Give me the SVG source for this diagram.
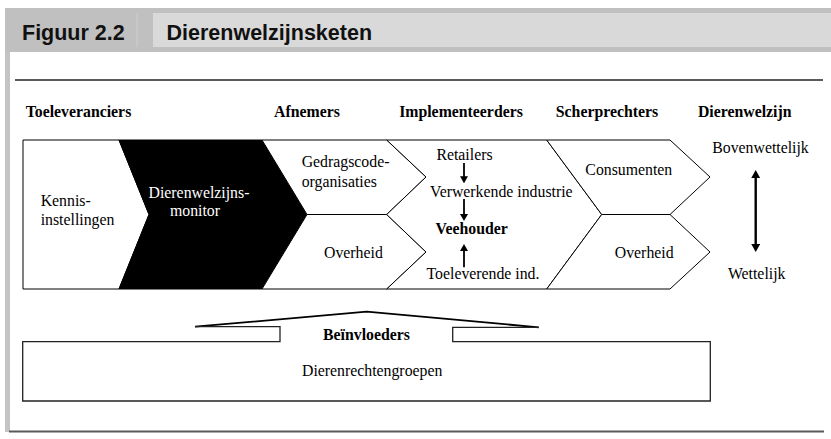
<svg xmlns="http://www.w3.org/2000/svg" width="831" height="439" viewBox="0 0 831 439">
<style>
.t{font-family:"Liberation Serif","Times New Roman",serif;font-size:15.8px;fill:#000}
.b{font-weight:bold}
.h{font-family:"Liberation Sans",Arial,sans-serif;font-weight:bold;font-size:21.5px;fill:#111}
.ch{fill:#fff;stroke:#000;stroke-width:1}
.blk{fill:#000;stroke:#000;stroke-width:1}
.ar{stroke:#000;fill:none}
.box{fill:none;stroke:#222;stroke-width:1.3}
.rule{stroke:#5a5a5a;stroke-width:2}
</style>
<defs>
<marker id="ah" viewBox="0 0 10 10" refX="1" refY="5" markerUnits="userSpaceOnUse" markerWidth="7" markerHeight="8" preserveAspectRatio="none" orient="auto-start-reverse">
<path d="M0,0 L10,5 L0,10 z" fill="#000"/>
</marker>
<marker id="ah2" viewBox="0 0 10 10" refX="1" refY="5" markerUnits="userSpaceOnUse" markerWidth="8" markerHeight="9" preserveAspectRatio="none" orient="auto-start-reverse">
<path d="M0,0 L10,5 L0,10 z" fill="#000"/>
</marker>
</defs>
<rect width="831" height="439" fill="#fff"/>
<g id="header">
<rect x="5" y="8" width="826" height="44" fill="#c0c0c0"/>
<rect x="5" y="52" width="5" height="380" fill="#c4c4c4"/>
<line x1="137" y1="13" x2="137" y2="47" stroke="#cfcfcf" stroke-width="1"/>
<rect x="153" y="13" width="678" height="34" fill="#d9d9d9"/>
<text class="h" x="22" y="39.5">Figuur 2.2</text>
<text class="h" x="166.5" y="39.5">Dierenwelzijnsketen</text>
<line class="rule" x1="15" y1="80" x2="823" y2="80"/>
<line class="rule" x1="9" y1="431.5" x2="824" y2="431.5"/>
</g>
<g id="column-headers" class="t b">
<text x="78.5" y="116.5" text-anchor="middle">Toeleveranciers</text>
<text x="307" y="116.5" text-anchor="middle">Afnemers</text>
<text x="461" y="116.5" text-anchor="middle">Implementeerders</text>
<text x="607" y="116.5" text-anchor="middle">Scherprechters</text>
<text x="744.7" y="116.5" text-anchor="middle">Dierenwelzijn</text>
</g>
<g id="kennisinstellingen">
<polygon class="ch" points="23,140 119,140 149,214.5 119,289 23,289"/>
<text class="t" x="40.7" y="206">Kennis-</text>
<text class="t" x="40.7" y="225">instellingen</text>
</g>
<g id="monitor">
<polygon class="blk" points="119,140 262,140 307,214.5 262,289 119,289 149,214.5"/>
<text class="t" x="199" y="198" text-anchor="middle" style="fill:#fff">Dierenwelzijns-</text>
<text class="t" x="195" y="216" text-anchor="middle" style="fill:#fff">monitor</text>
</g>
<g id="gedragscode">
<polygon class="ch" points="262,140 386.7,140 426,177 386.7,214.5 307,214.5"/>
<text class="t" x="301.7" y="167.3">Gedragscode-</text>
<text class="t" x="301.7" y="186.5">organisaties</text>
</g>
<g id="overheid-afnemers">
<polygon class="ch" points="307,214.5 386.7,214.5 426,252 386.7,289 262,289"/>
<text class="t" x="324" y="258.3">Overheid</text>
</g>
<g id="implementeerders">
<polygon class="ch" points="386.7,140 546.7,140 601.7,214.5 546.7,289 386.7,289 426,252 386.7,214.5 426,177"/>
<text class="t" x="464.5" y="160" text-anchor="middle">Retailers</text>
<text class="t" x="501.3" y="196.5" text-anchor="middle">Verwerkende industrie</text>
<text class="t b" x="471.7" y="234" text-anchor="middle">Veehouder</text>
<text class="t" x="483" y="279.3" text-anchor="middle">Toeleverende ind.</text>
</g>
<g id="consumenten">
<polygon class="ch" points="546.7,140 670,140 710,177 670,214.5 601.7,214.5"/>
<text class="t" x="628.8" y="175" text-anchor="middle">Consumenten</text>
</g>
<g id="overheid-scherp">
<polygon class="ch" points="601.7,214.5 670,214.5 710,252 670,289 546.7,289"/>
<text class="t" x="644.2" y="258.3" text-anchor="middle">Overheid</text>
</g>
<g id="dierenwelzijn-schaal">
<text class="t" x="760.5" y="152.5" text-anchor="middle">Bovenwettelijk</text>
<text class="t" x="756.7" y="279.3" text-anchor="middle">Wettelijk</text>
</g>
<g id="beinvloeders">
<polyline points="195,326.7 366.7,311.7 538.7,327.3" fill="none" stroke="#000" stroke-width="1.8"/>
<polyline class="box" points="195,326.7 280,326.7 280,341.7 22.7,341.7 22.7,401 710.3,401 710.3,341.7 452.7,341.7 452.7,327.3 538.7,327.3"/>
<text class="t b" x="366.5" y="340" text-anchor="middle">Beïnvloeders</text>
<text class="t" x="372.2" y="376" text-anchor="middle">Dierenrechtengroepen</text>
</g>
<g id="connectors">
<line class="ar" x1="464" y1="163" x2="464" y2="177" stroke-width="1.8" marker-end="url(#ah)"/>
<line class="ar" x1="464" y1="199" x2="464" y2="214.7" stroke-width="1.8" marker-end="url(#ah)"/>
<line class="ar" x1="464" y1="267.3" x2="464" y2="250.3" stroke-width="1.8" marker-end="url(#ah)"/>
<line class="ar" x1="755.7" y1="177.3" x2="755.7" y2="244.7" stroke-width="2.4" marker-start="url(#ah2)" marker-end="url(#ah2)"/>
</g>
</svg>
